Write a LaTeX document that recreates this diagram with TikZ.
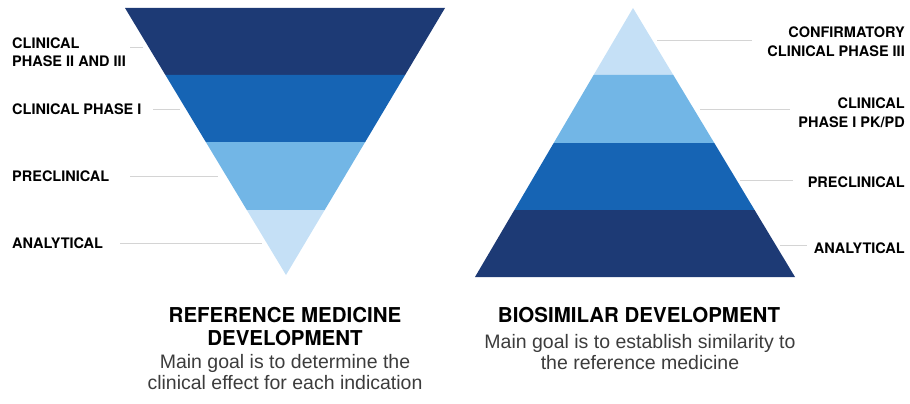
\documentclass[tikz,border=0pt]{standalone}
\usepackage{fontspec}
\setmainfont{TeX Gyre Heros}
\newfontfamily\subfont{Liberation Sans}
\definecolor{cA}{HTML}{1D3A75}
\definecolor{cB}{HTML}{1664B4}
\definecolor{cC}{HTML}{72B6E6}
\definecolor{cD}{HTML}{C5E0F6}
\definecolor{lead}{HTML}{D4D4D4}
\definecolor{subg}{HTML}{3C3C3C}
\begin{document}
\begin{tikzpicture}[x=1pt,y=-1pt,
  lbl/.style={font=\fontsize{14.5}{18.5}\selectfont\bfseries, inner sep=0pt, align=left},
  lblr/.style={font=\fontsize{14.5}{19}\selectfont\bfseries, inner sep=0pt, align=right},
  ttl/.style={font=\fontsize{20.5}{23}\selectfont\bfseries, inner sep=0pt, align=center},
  sub/.style={font=\fontsize{19.5}{20.5}\selectfont\subfont, text=subg, inner sep=0pt, align=center},
  leader/.style={draw=lead, line width=1pt}]
\useasboundingbox (0,0) rectangle (910,404);
% left inverted triangle
\coordinate (LAP) at (286,275);
\fill[cA] (125,8) -- (445,8) -- (405.1,75) -- (165.4,75) -- cycle;
\fill[cB] (165.4,75) -- (405.1,75) -- (365.2,142) -- (205.8,142) -- cycle;
\fill[cC] (205.8,142) -- (365.2,142) -- (324.7,210) -- (246.8,210) -- cycle;
\fill[cD] (246.8,210) -- (324.7,210) -- (LAP) -- cycle;
% right triangle
\coordinate (RAP) at (633,8);
\fill[cD] (RAP) -- (673.3,75) -- (593.6,75) -- cycle;
\fill[cC] (593.6,75) -- (673.3,75) -- (714.3,143) -- (553.7,143) -- cycle;
\fill[cB] (553.7,143) -- (714.3,143) -- (754.6,210) -- (514.4,210) -- cycle;
\fill[cA] (514.4,210) -- (754.6,210) -- (795,277) -- (475,277) -- cycle;
% left labels
\node[lbl, anchor=west] (l1) at (12,52) {CLINICAL\\PHASE II AND III};
\node[lbl, anchor=west] (l2) at (12,109) {CLINICAL PHASE I};
\node[lbl, anchor=west] (l3) at (12,176) {PRECLINICAL};
\node[lbl, anchor=west] (l4) at (12,243) {ANALYTICAL};
\coordinate (e1) at (143,48);
\coordinate (e2) at (180,109);
\coordinate (e3) at (218,176);
\coordinate (e4) at (262,243);
\draw[leader] (130,48) -- (e1);
\draw[leader] (153,109) -- (e2);
\draw[leader] (130,176) -- (e3);
\draw[leader] (120,243) -- (e4);
% right labels
\node[lblr, anchor=east] (r1) at (905,42) {CONFIRMATORY\\CLINICAL PHASE III};
\node[lblr, anchor=east] (r2) at (905,113) {CLINICAL\\PHASE I PK/PD};
\node[lblr, anchor=east] (r3) at (905,182) {PRECLINICAL};
\node[lblr, anchor=east] (r4) at (905,248) {ANALYTICAL};
\coordinate (f1) at (657,41);
\coordinate (f2) at (700,109);
\coordinate (f3) at (740,180);
\coordinate (f4) at (780,245);
\draw[leader] (f1) -- (752,41);
\draw[leader] (f2) -- (790,109);
\draw[leader] (f3) -- (793,180);
\draw[leader] (f4) -- (807,245);
% titles
\node[ttl] (t1) at (285,326.5) {REFERENCE MEDICINE\\DEVELOPMENT};
\node[sub] (s1) at (285,372) {Main goal is to determine the\\clinical effect for each indication};
\node[ttl] (t2) at (639,315) {BIOSIMILAR DEVELOPMENT};
\node[sub] (s2) at (640,352) {Main goal is to establish similarity to\\the reference medicine};
\end{tikzpicture}
\end{document}
